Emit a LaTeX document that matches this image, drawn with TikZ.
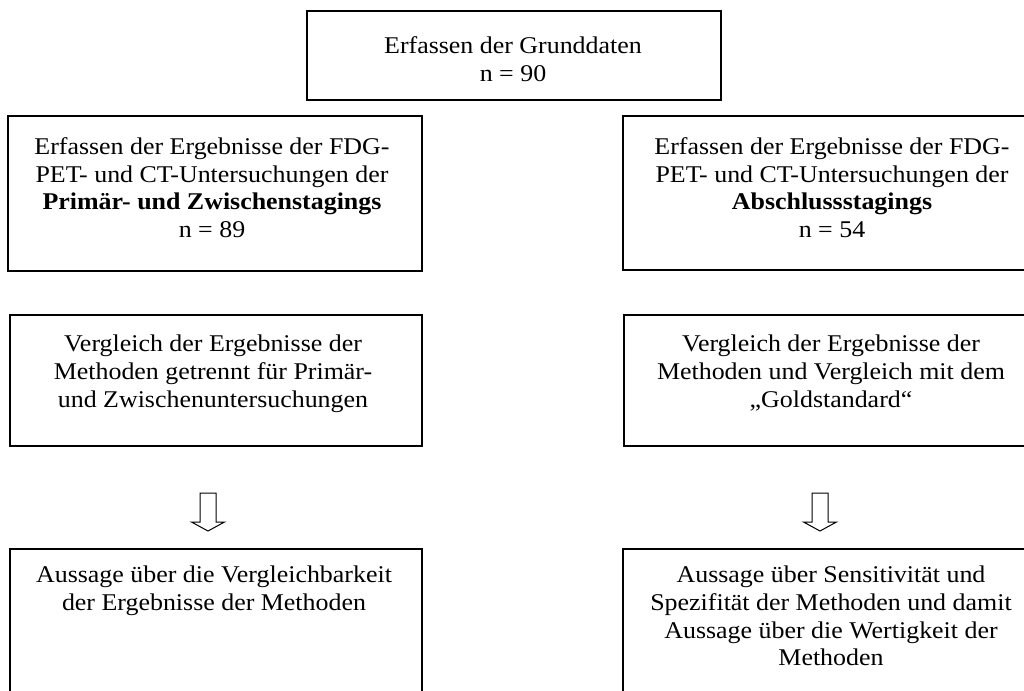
\documentclass[tikz,border=0pt]{standalone}
\usepackage{fontspec}
\setmainfont[FakeStretch=1.08]{Liberation Serif}
\begin{document}
\begin{tikzpicture}[x=1pt,y=-1pt,
  box/.style={draw, line width=1.6pt, rectangle, inner sep=0, anchor=north west},
  txt/.style={align=center, inner sep=0, anchor=north, font=\fontsize{24}{27.6}\selectfont},
  harrow/.style={draw, line width=1pt, fill=white}]
\useasboundingbox (0,0) rectangle (1024,690);
% boxes
\node[box, minimum width=414, minimum height=89] (b0) at (306,10) {};
\node[box, minimum width=414, minimum height=155] (bl1) at (7,115) {};
\node[box, minimum width=418, minimum height=154] (br1) at (622,115) {};
\node[box, minimum width=412, minimum height=131] (bl2) at (9,314) {};
\node[box, minimum width=418, minimum height=131] (br2) at (623,314) {};
\node[box, minimum width=412, minimum height=170] (bl3) at (9,548) {};
\node[box, minimum width=418, minimum height=170] (br3) at (622,548) {};
% texts
\node[txt] (t0) at (513,36.5) {Erfassen der Grunddaten\\n = 90};
\node[txt] (tl1) at (212,137.5) {Erfassen der Ergebnisse der FDG-\\PET- und CT-Untersuchungen der\\\textbf{Primär- und Zwischenstagings}\\n = 89};
\node[txt] (tr1) at (832,137.5) {Erfassen der Ergebnisse der FDG-\\PET- und CT-Untersuchungen der\\\textbf{Abschlussstagings}\\n = 54};
\node[txt] (tl2) at (213,335) {Vergleich der Ergebnisse der\\Methoden getrennt für Primär-\\und Zwischenuntersuchungen};
\node[txt] (tr2) at (831,335) {Vergleich der Ergebnisse der\\Methoden und Vergleich mit dem\\„Goldstandard“};
\node[txt] (tl3) at (214,566) {Aussage über die Vergleichbarkeit\\der Ergebnisse der Methoden};
\node[txt] (tr3) at (831,566) {Aussage über Sensitivität und\\Spezifität der Methoden und damit\\Aussage über die Wertigkeit der\\Methoden};
% hollow arrows
\coordinate (al) at (208,493);
\coordinate (ar) at (820,493);
\draw[harrow] (al) ++(-8,0) -- ++(16,0) -- ++(0,29) -- ++(8.5,0) -- ++(-16.5,9) -- ++(-16.5,-9) -- ++(8.5,0) -- cycle;
\draw[harrow] (ar) ++(-8,0) -- ++(16,0) -- ++(0,29) -- ++(8.5,0) -- ++(-16.5,9) -- ++(-16.5,-9) -- ++(8.5,0) -- cycle;
\end{tikzpicture}
\end{document}
